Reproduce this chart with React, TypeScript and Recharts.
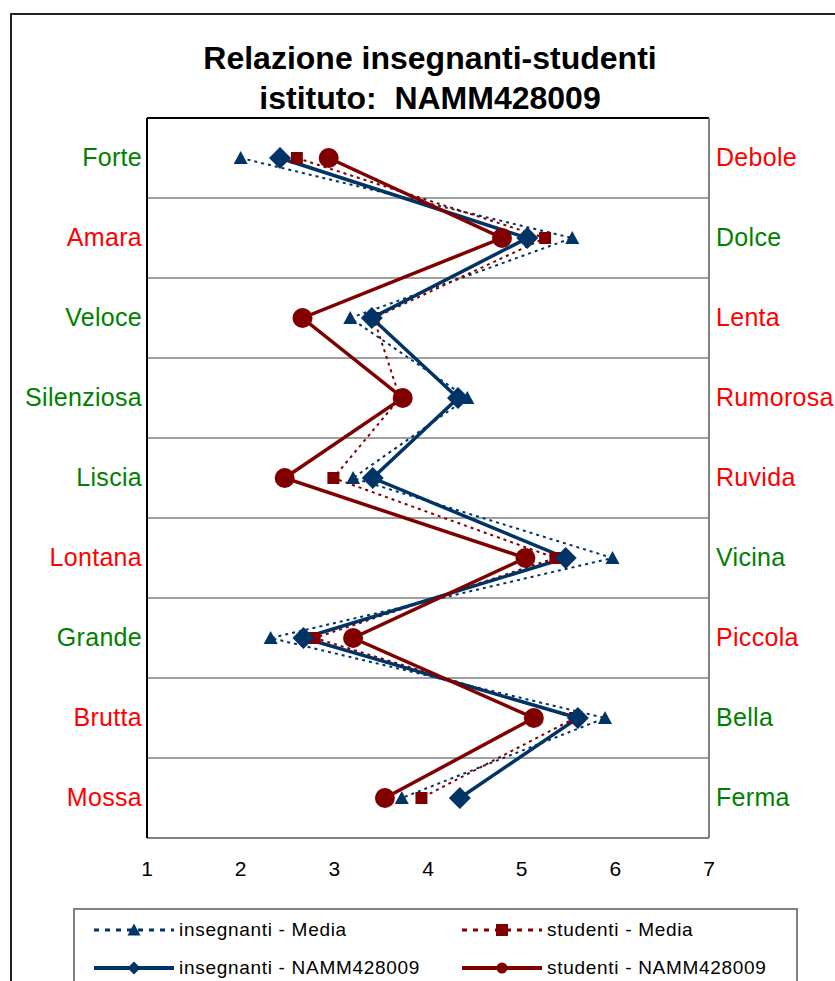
import React from 'react';
import { LineChart, Line, XAxis, YAxis, ReferenceLine } from 'recharts';

// ---- data ----
const leftLabels = ['Forte', 'Amara', 'Veloce', 'Silenziosa', 'Liscia', 'Lontana', 'Grande', 'Brutta', 'Mossa'];
const rightLabels = ['Debole', 'Dolce', 'Lenta', 'Rumorosa', 'Ruvida', 'Vicina', 'Piccola', 'Bella', 'Ferma'];
// true when the left-hand word is the "positive" pole (shown green)
const leftIsPositive = [true, false, true, true, true, false, true, false, false];
const xTicks = [1, 2, 3, 4, 5, 6, 7];

const insegnantiMedia = [2.0, 5.54, 3.17, 4.42, 3.2, 5.97, 2.32, 5.89, 3.72];
const studentiMedia = [2.6, 5.25, 3.42, 3.7, 2.99, 5.36, 2.79, 5.57, 3.93];
const insegnantiIstituto = [2.42, 5.06, 3.4, 4.32, 3.41, 5.47, 2.67, 5.6, 4.34];
const studentiIstituto = [2.94, 4.79, 2.66, 3.73, 2.47, 5.04, 3.2, 5.13, 3.54];

const titleLine1 = 'Relazione insegnanti-studenti';
const titleLine2 = 'istituto:  NAMM428009';

const seriesNames = {
  insMedia: 'insegnanti - Media',
  stuMedia: 'studenti - Media',
  insIst: 'insegnanti - NAMM428009',
  stuIst: 'studenti - NAMM428009',
};

// ---- styles ----
const NAVY = '#003366';
const MAROON = '#800000';
const GREEN = '#008000';
const RED = '#FF0000';
const GRID = '#808080';
const FONT = '"Liberation Sans", Arial, sans-serif';

const data = leftLabels.map((l, i) => ({
  pos: i + 0.5,
  insMedia: insegnantiMedia[i],
  stuMedia: studentiMedia[i],
  insIst: insegnantiIstituto[i],
  stuIst: studentiIstituto[i],
}));
const rowTicks = leftLabels.map((_, i) => i + 0.5);
const rowBounds = leftLabels.slice(1).map((_, i) => i + 1);

type Shape = 'triangle' | 'square' | 'diamond' | 'circle';

const Marker = ({ shape, cx, cy, size, color }: { shape: Shape; cx: number; cy: number; size: number; color: string }) => {
  const h = size / 2;
  if (shape === 'triangle') {
    return <polygon points={`${cx},${cy - h} ${cx + h},${cy + h * 0.85} ${cx - h},${cy + h * 0.85}`} fill={color} />;
  }
  if (shape === 'square') {
    return <rect x={cx - h} y={cy - h} width={size} height={size} fill={color} />;
  }
  if (shape === 'diamond') {
    return <polygon points={`${cx},${cy - h} ${cx + h},${cy} ${cx},${cy + h} ${cx - h},${cy}`} fill={color} />;
  }
  return <circle cx={cx} cy={cy} r={h} fill={color} />;
};

const makeDot = (shape: Shape, size: number, color: string) => (props: any) => {
  const { cx, cy, index } = props;
  if (cx == null || cy == null) return <g key={`${shape}-${index}`} />;
  return (
    <g key={`${shape}-${index}`}>
      <Marker shape={shape} cx={cx} cy={cy} size={size} color={color} />
    </g>
  );
};

const LeftTick = (props: any) => {
  const { x, y, payload } = props;
  const i = Math.floor(payload.value);
  return (
    <text x={x} y={y} dy={8} textAnchor="end" fill={leftIsPositive[i] ? GREEN : RED} fontSize={25} fontFamily={FONT} letterSpacing={0.3}>
      {leftLabels[i]}
    </text>
  );
};

const RightTick = (props: any) => {
  const { x, y, payload } = props;
  const i = Math.floor(payload.value);
  return (
    <text x={x} y={y} dy={8} textAnchor="start" fill={leftIsPositive[i] ? RED : GREEN} fontSize={25} fontFamily={FONT} letterSpacing={0.3}>
      {rightLabels[i]}
    </text>
  );
};

const XTick = (props: any) => {
  const { x, y, payload } = props;
  return (
    <text x={x} y={y} textAnchor="middle" fill="#000" fontSize={21} fontFamily={FONT}>
      {payload.value}
    </text>
  );
};

const legendItems: { key: keyof typeof seriesNames; color: string; shape: Shape; dashed: boolean; size: number }[] = [
  { key: 'insMedia', color: NAVY, shape: 'triangle', dashed: true, size: 13 },
  { key: 'stuMedia', color: MAROON, shape: 'square', dashed: true, size: 12 },
  { key: 'insIst', color: NAVY, shape: 'diamond', dashed: false, size: 13 },
  { key: 'stuIst', color: MAROON, shape: 'circle', dashed: false, size: 11 },
];

const LegendSymbol = ({ color, shape, dashed, size }: { color: string; shape: Shape; dashed: boolean; size: number }) => (
  <svg width={84} height={20} style={{ display: 'block' }}>
    <line x1={2} y1={10} x2={82} y2={10} stroke={color} strokeWidth={dashed ? 3 : 4} strokeDasharray={dashed ? '5 6' : undefined} />
    <Marker shape={shape} cx={42} cy={10} size={size} color={color} />
  </svg>
);

export default function App() {
  return (
    <div style={{ position: 'absolute', left: 0, top: 0, width: 835, height: 981, overflow: 'hidden', background: '#fff', fontFamily: FONT }}>
      <div style={{ position: 'absolute', left: 10, top: 13, width: 900, height: 1000, border: '2px solid #222', boxSizing: 'border-box' }} />
      <div style={{ position: 'absolute', left: 130, width: 600, top: 38, textAlign: 'center', fontWeight: 'bold', fontSize: 32, lineHeight: '40px', whiteSpace: 'pre', color: '#000' }}>
        <div>{titleLine1}</div>
        <div>{titleLine2}</div>
      </div>
      <div style={{ position: 'absolute', left: 0, top: 0 }}>
        <LineChart width={835} height={900} data={data} layout="vertical" margin={{ top: 118, right: 6, left: 7, bottom: 12 }}>
          <XAxis
            type="number"
            domain={[1, 7]}
            ticks={xTicks}
            allowDataOverflow
            height={50}
            axisLine={{ stroke: GRID, strokeWidth: 2 }}
            tickLine={false}
            tickSize={0}
            tickMargin={38}
            tick={<XTick />}
          />
          <YAxis
            yAxisId="left"
            type="number"
            dataKey="pos"
            domain={[0, leftLabels.length]}
            ticks={rowTicks}
            width={140}
            axisLine={{ stroke: '#000', strokeWidth: 2 }}
            tickLine={false}
            tickSize={0}
            tickMargin={5}
            tick={<LeftTick />}
            interval={0}
          />
          <YAxis
            yAxisId="right"
            orientation="right"
            type="number"
            dataKey="pos"
            domain={[0, rightLabels.length]}
            ticks={rowTicks}
            width={120}
            axisLine={{ stroke: GRID, strokeWidth: 2 }}
            tickLine={false}
            tickSize={0}
            tickMargin={7}
            tick={<RightTick />}
            interval={0}
          />
          <ReferenceLine yAxisId="left" y={0} stroke="#000" strokeWidth={2} />
          {rowBounds.map((b) => (
            <ReferenceLine key={b} yAxisId="left" y={b} stroke={GRID} strokeWidth={1.6} />
          ))}
          <Line yAxisId="left" dataKey="insMedia" name={seriesNames.insMedia} stroke={NAVY} strokeWidth={2} strokeDasharray="3 4" dot={makeDot('triangle', 14, NAVY)} activeDot={false} isAnimationActive={false} />
          <Line yAxisId="left" dataKey="stuMedia" name={seriesNames.stuMedia} stroke={MAROON} strokeWidth={2} strokeDasharray="3 4" dot={makeDot('square', 12, MAROON)} activeDot={false} isAnimationActive={false} />
          <Line yAxisId="left" dataKey="insIst" name={seriesNames.insIst} stroke={NAVY} strokeWidth={3.5} dot={makeDot('diamond', 22, NAVY)} activeDot={false} isAnimationActive={false} />
          <Line yAxisId="left" dataKey="stuIst" name={seriesNames.stuIst} stroke={MAROON} strokeWidth={3.5} dot={makeDot('circle', 20, MAROON)} activeDot={false} isAnimationActive={false} />
        </LineChart>
      </div>
      <div style={{ position: 'absolute', left: 73, top: 908, width: 725, height: 100, border: '2px solid ' + GRID, boxSizing: 'border-box' }}>
        {legendItems.map((it, k) => (
          <div
            key={it.key}
            style={{
              position: 'absolute',
              left: k % 2 === 0 ? 17 : 385,
              top: k < 2 ? 9 : 47,
              display: 'flex',
              alignItems: 'center',
              height: 22,
            }}
          >
            <LegendSymbol color={it.color} shape={it.shape} dashed={it.dashed} size={it.size} />
            <span style={{ fontSize: 19, letterSpacing: 0.7, marginLeft: 3, color: '#000', whiteSpace: 'pre' }}>{seriesNames[it.key]}</span>
          </div>
        ))}
      </div>
    </div>
  );
}
